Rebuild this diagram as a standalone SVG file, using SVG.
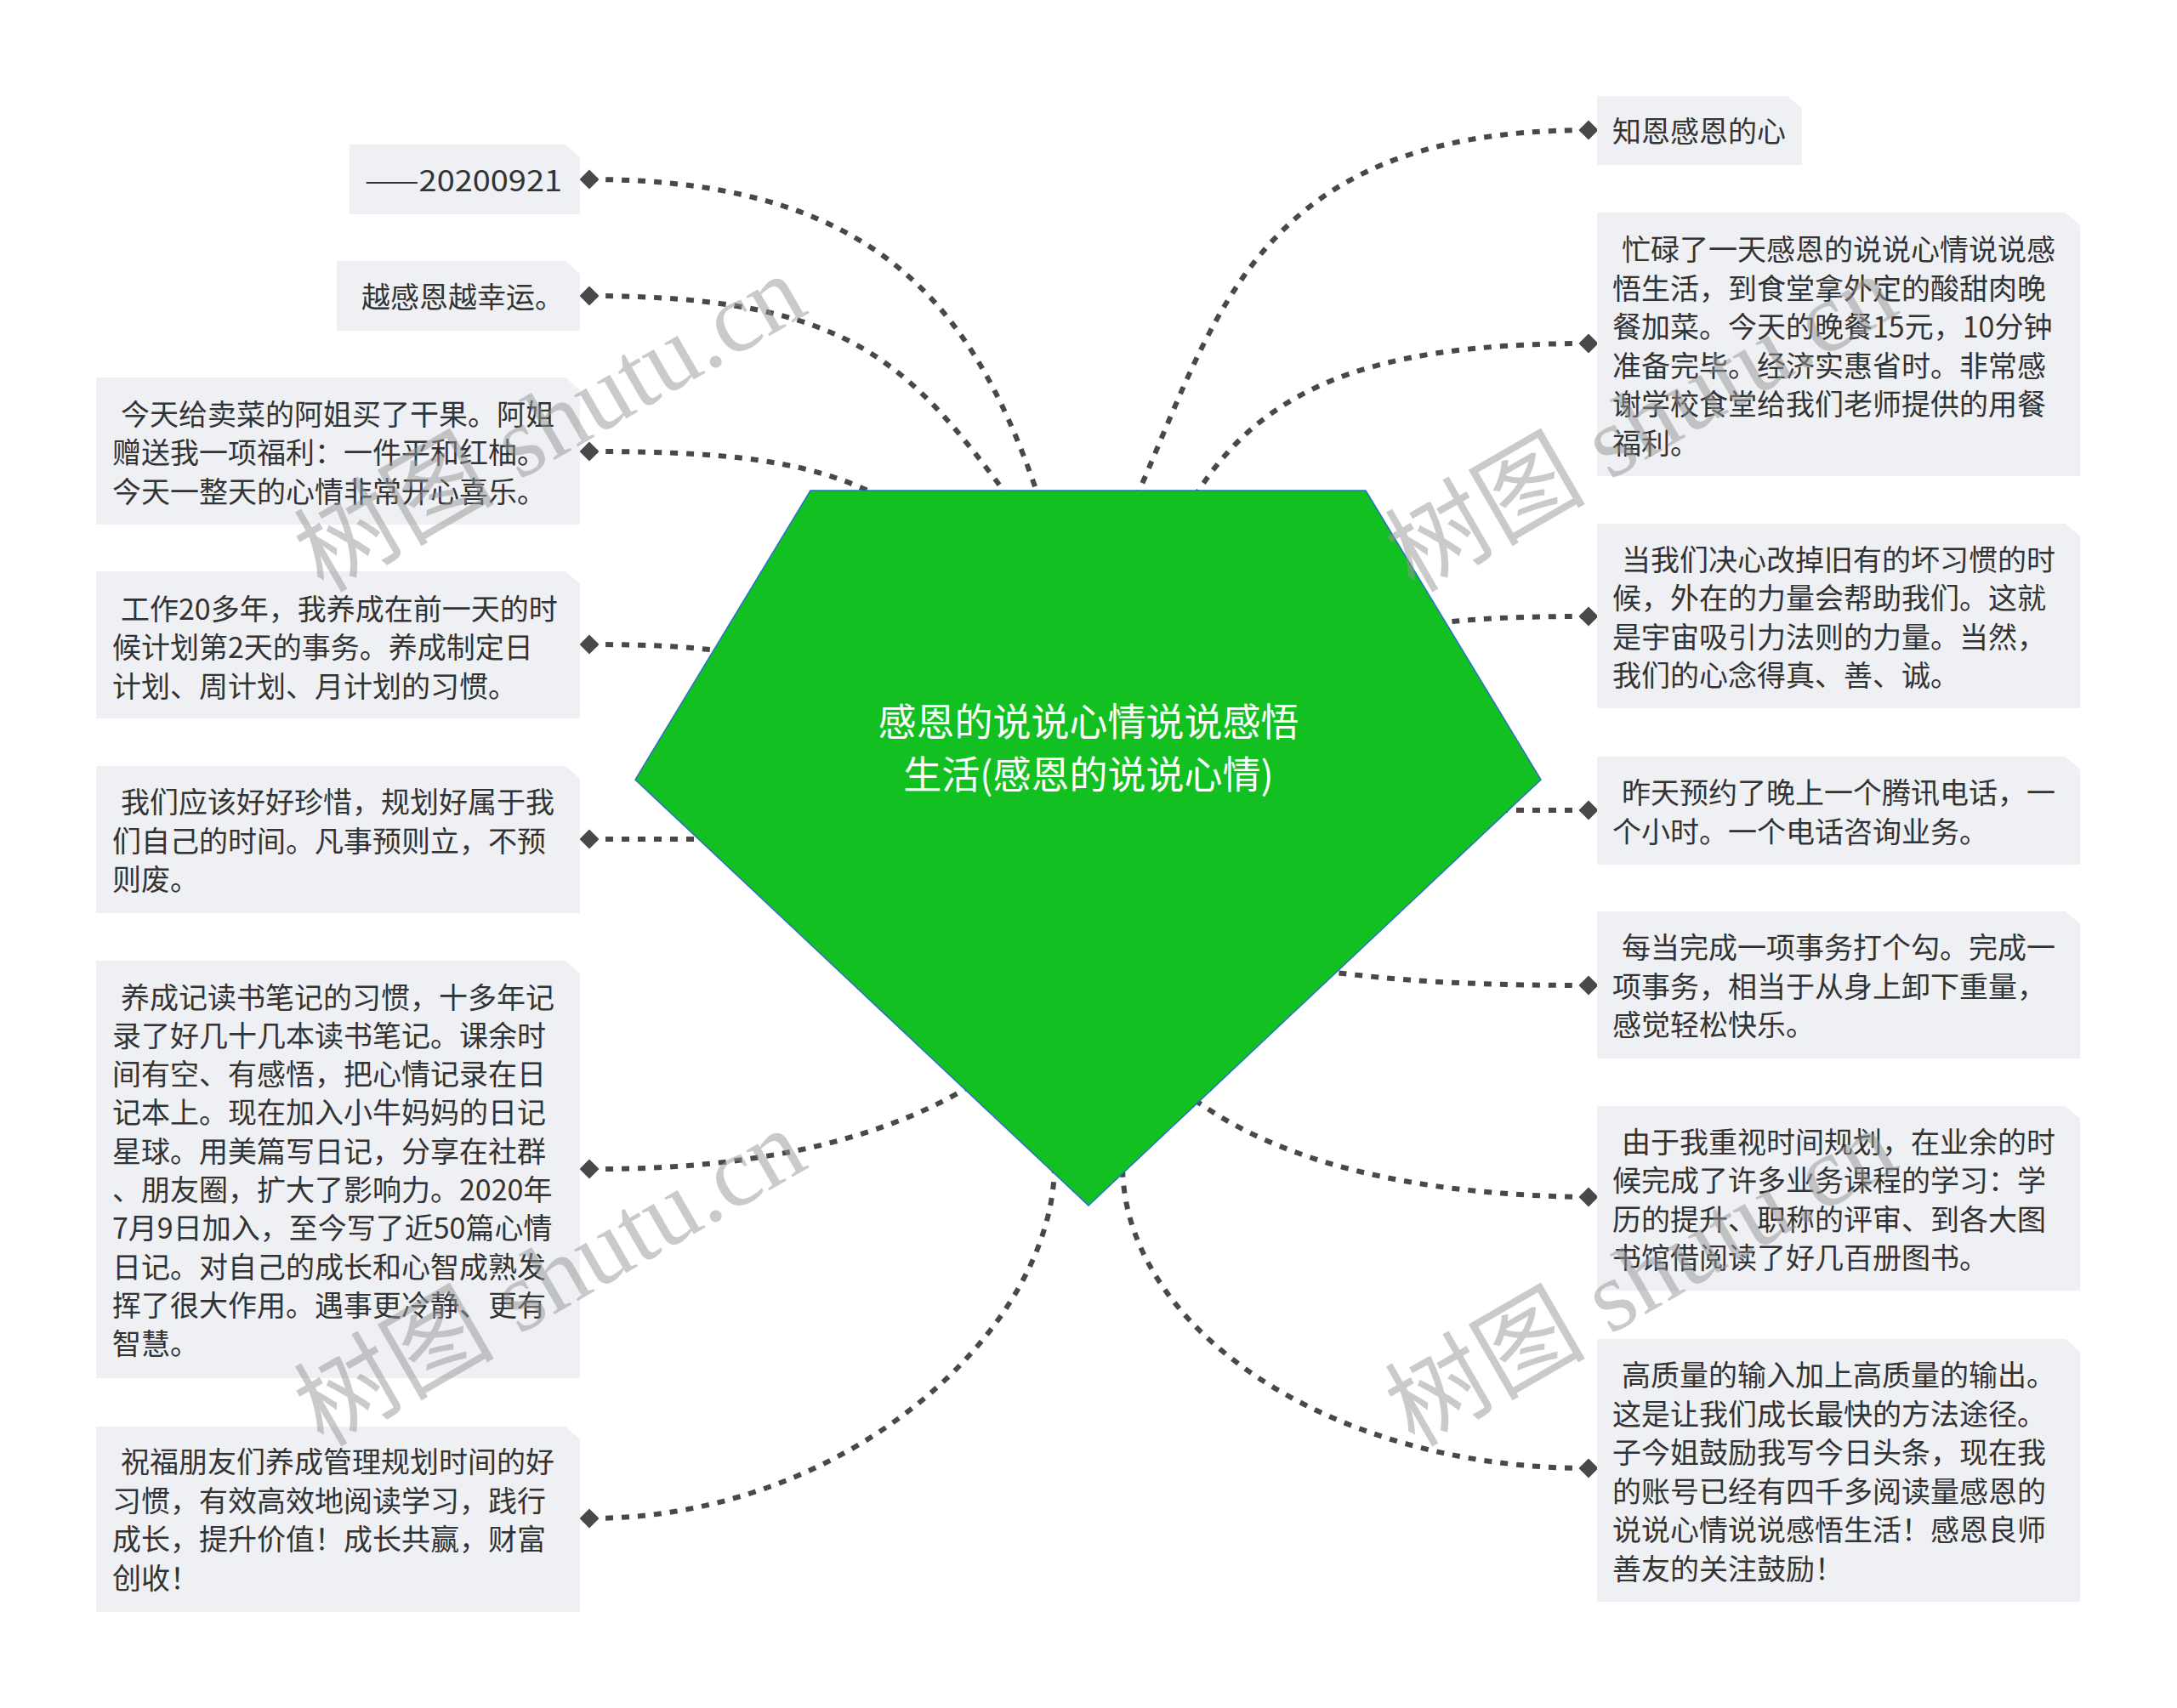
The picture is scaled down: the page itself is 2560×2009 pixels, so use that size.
<svg xmlns="http://www.w3.org/2000/svg" width="2560" height="2009" viewBox="0 0 2560 2009">
<style>
.box{fill:#eef0f3;}
.t{font-family:"Noto Sans CJK SC","Noto Sans",sans-serif;font-size:34px;fill:#333333;dominant-baseline:central;}
.ct{font-family:"Noto Sans CJK SC","Noto Sans",sans-serif;font-size:45px;fill:#ffffff;dominant-baseline:central;text-anchor:middle;}
.conn{fill:none;stroke:#474847;stroke-width:6;stroke-dasharray:9 10;marker-start:url(#dia);}
.wm{font-family:"Liberation Serif","Noto Sans CJK SC",serif;font-size:118px;fill:#969696;opacity:0.5;}
</style>
<defs>
<marker id="dia" markerUnits="userSpaceOnUse" viewBox="0 0 24 24" refX="12" refY="12" markerWidth="24" markerHeight="24" orient="0">
<path d="M12 0.5 L23.5 12 L12 23.5 L0.5 12 Z" fill="#474a47"/>
</marker>
</defs>
<rect width="2560" height="2009" fill="#ffffff"/>
<g id="connectors">
<path class="conn" d="M693 211 C1054 211 1158 383 1233 620"/>
<path class="conn" d="M693 348 C1004 348 1070 430 1190 590"/>
<path class="conn" d="M693 531 C880 531 980 545 1070 605"/>
<path class="conn" d="M693 758 C780 758 820 762 870 768"/>
<path class="conn" d="M693 987 L840 987"/>
<path class="conn" d="M693 1375 C860 1376 1020 1350 1140 1278"/>
<path class="conn" d="M693 1786 C1000 1786 1240 1560 1240 1370"/>
<path class="conn" d="M1868 153 C1457 153 1427 395 1320 620"/>
<path class="conn" d="M1868 404 C1600 404 1470 460 1390 610"/>
<path class="conn" d="M1868 725 C1790 725 1740 727 1680 734"/>
<path class="conn" d="M1868 953 L1760 953"/>
<path class="conn" d="M1868 1159 C1720 1159 1640 1153 1555 1142"/>
<path class="conn" d="M1868 1408 C1700 1406 1520 1380 1400 1290"/>
<path class="conn" d="M1868 1727 C1560 1727 1320 1560 1320 1370"/>
</g>
<g id="root">
<polygon points="953,577 1606,577 1812,917 1280,1418 747,917" fill="#12c021" stroke="#2a6fc9" stroke-width="1.5"/>
<text class="ct" x="1280" y="846">感恩的说说心情说说感悟</text>
<text class="ct" x="1280" y="908">生活(感恩的说说心情)</text>
</g>
<g id="node-l1">
<path class="box" d="M411 170 H665 L682 185 V252 H411 Z"/>
<text class="t" x="429" y="210" textLength="232" lengthAdjust="spacingAndGlyphs">——20200921</text>
</g>
<g id="node-l2">
<path class="box" d="M396 307 H665 L682 322 V389 H396 Z"/>
<text class="t" x="425" y="347">越感恩越幸运。</text>
</g>
<g id="node-l3">
<path class="box" d="M113 444 H665 L682 459 V617 H113 Z"/>
<text class="t" x="142" y="485">今天给卖菜的阿姐买了干果。阿姐</text>
<text class="t" x="132" y="530.5">赠送我一项福利：一件平和红柚。</text>
<text class="t" x="132" y="576">今天一整天的心情非常开心喜乐。</text>
</g>
<g id="node-l4">
<path class="box" d="M113 672 H665 L682 687 V845 H113 Z"/>
<text class="t" x="142" y="714">工作20多年，我养成在前一天的时</text>
<text class="t" x="132" y="759.5">候计划第2天的事务。养成制定日</text>
<text class="t" x="132" y="805">计划、周计划、月计划的习惯。</text>
</g>
<g id="node-l5">
<path class="box" d="M113 901 H665 L682 916 V1074 H113 Z"/>
<text class="t" x="142" y="941.5">我们应该好好珍惜，规划好属于我</text>
<text class="t" x="132" y="987">们自己的时间。凡事预则立，不预</text>
<text class="t" x="132" y="1032.5">则废。</text>
</g>
<g id="node-l6">
<path class="box" d="M113 1130 H665 L682 1145 V1621 H113 Z"/>
<text class="t" x="142" y="1171">养成记读书笔记的习惯，十多年记</text>
<text class="t" x="132" y="1216.3">录了好几十几本读书笔记。课余时</text>
<text class="t" x="132" y="1261.6">间有空、有感悟，把心情记录在日</text>
<text class="t" x="132" y="1306.9">记本上。现在加入小牛妈妈的日记</text>
<text class="t" x="132" y="1352.2">星球。用美篇写日记，分享在社群</text>
<text class="t" x="132" y="1397.5">、朋友圈，扩大了影响力。2020年</text>
<text class="t" x="132" y="1442.8">7月9日加入，至今写了近50篇心情</text>
<text class="t" x="132" y="1488.1">日记。对自己的成长和心智成熟发</text>
<text class="t" x="132" y="1533.4">挥了很大作用。遇事更冷静、更有</text>
<text class="t" x="132" y="1578.7">智慧。</text>
</g>
<g id="node-l7">
<path class="box" d="M113 1678 H665 L682 1693 V1896 H113 Z"/>
<text class="t" x="142" y="1717.5">祝福朋友们养成管理规划时间的好</text>
<text class="t" x="132" y="1763">习惯，有效高效地阅读学习，践行</text>
<text class="t" x="132" y="1808.5">成长，提升价值！成长共赢，财富</text>
<text class="t" x="132" y="1854">创收！</text>
</g>
<g id="node-r1">
<path class="box" d="M1878 113 H2102 L2119 128 V194 H1878 Z"/>
<text class="t" x="1896" y="152.5">知恩感恩的心</text>
</g>
<g id="node-r2">
<path class="box" d="M1878 250 H2429 L2446 265 V560 H1878 Z"/>
<text class="t" x="1907" y="291.5">忙碌了一天感恩的说说心情说说感</text>
<text class="t" x="1896" y="337">悟生活，到食堂拿外定的酸甜肉晚</text>
<text class="t" x="1896" y="382.5">餐加菜。今天的晚餐15元，10分钟</text>
<text class="t" x="1896" y="428">准备完毕。经济实惠省时。非常感</text>
<text class="t" x="1896" y="473.5">谢学校食堂给我们老师提供的用餐</text>
<text class="t" x="1896" y="519">福利。</text>
</g>
<g id="node-r3">
<path class="box" d="M1878 616 H2429 L2446 631 V833 H1878 Z"/>
<text class="t" x="1907" y="656">当我们决心改掉旧有的坏习惯的时</text>
<text class="t" x="1896" y="701.5">候，外在的力量会帮助我们。这就</text>
<text class="t" x="1896" y="747">是宇宙吸引力法则的力量。当然，</text>
<text class="t" x="1896" y="792.5">我们的心念得真、善、诚。</text>
</g>
<g id="node-r4">
<path class="box" d="M1878 890 H2429 L2446 905 V1017 H1878 Z"/>
<text class="t" x="1907" y="930.5">昨天预约了晚上一个腾讯电话，一</text>
<text class="t" x="1896" y="976">个小时。一个电话咨询业务。</text>
</g>
<g id="node-r5">
<path class="box" d="M1878 1072 H2429 L2446 1087 V1245 H1878 Z"/>
<text class="t" x="1907" y="1112.5">每当完成一项事务打个勾。完成一</text>
<text class="t" x="1896" y="1158">项事务，相当于从身上卸下重量，</text>
<text class="t" x="1896" y="1203.5">感觉轻松快乐。</text>
</g>
<g id="node-r6">
<path class="box" d="M1878 1301 H2429 L2446 1316 V1518 H1878 Z"/>
<text class="t" x="1907" y="1341">由于我重视时间规划，在业余的时</text>
<text class="t" x="1896" y="1386.5">候完成了许多业务课程的学习：学</text>
<text class="t" x="1896" y="1432">历的提升、职称的评审、到各大图</text>
<text class="t" x="1896" y="1477.5">书馆借阅读了好几百册图书。</text>
</g>
<g id="node-r7">
<path class="box" d="M1878 1575 H2429 L2446 1590 V1884 H1878 Z"/>
<text class="t" x="1907" y="1615.5">高质量的输入加上高质量的输出。</text>
<text class="t" x="1896" y="1661">这是让我们成长最快的方法途径。</text>
<text class="t" x="1896" y="1706.5">子今姐鼓励我写今日头条，现在我</text>
<text class="t" x="1896" y="1752">的账号已经有四千多阅读量感恩的</text>
<text class="t" x="1896" y="1797.5">说说心情说说感悟生活！感恩良师</text>
<text class="t" x="1896" y="1843">善友的关注鼓励！</text>
</g>
<g id="watermarks">
<text class="wm" x="380" y="698" transform="rotate(-30 380 698)">树图 shutu.cn</text>
<text class="wm" x="1663" y="698" transform="rotate(-30 1663 698)">树图 shutu.cn</text>
<text class="wm" x="380" y="1703" transform="rotate(-30 380 1703)">树图 shutu.cn</text>
<text class="wm" x="1663" y="1703" transform="rotate(-30 1663 1703)">树图 shutu.cn</text>
</g>
</svg>
